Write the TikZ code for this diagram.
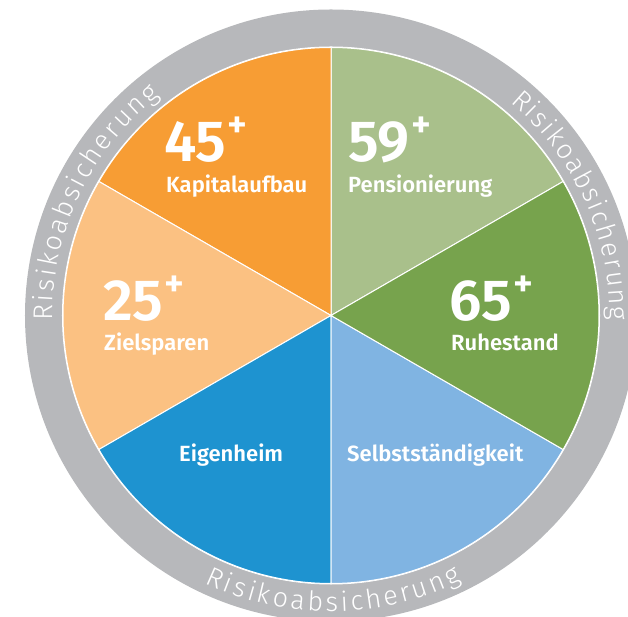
\documentclass[tikz,border=0pt]{standalone}
\usepackage{fontspec}
\setmainfont{Fira Sans}
\newfontfamily\semib{Fira Sans SemiBold}
\newfontfamily\lightf{Fira Sans Light}
\usetikzlibrary{decorations.text}
\definecolor{cOr}{HTML}{F79D34}
\definecolor{cOrL}{HTML}{FBC182}
\definecolor{cGrL}{HTML}{A9C08B}
\definecolor{cGr}{HTML}{77A34D}
\definecolor{cBl}{HTML}{1E93D0}
\definecolor{cBlL}{HTML}{80B4E2}
\definecolor{cRing}{HTML}{B7B8BB}
\newcommand{\agenum}[1]{{\semib\fontsize{58}{58}\selectfont #1}\kern1.5pt\raisebox{24pt}{\semib\fontsize{38}{38}\selectfont +}}
\begin{document}
\begin{tikzpicture}[x=1pt,y=1pt,
  sector/.style={draw=white, line width=1pt},
  lab/.style={anchor=base west, inner sep=0pt, text=white, font=\semib\fontsize{22}{22}\selectfont},
  num/.style={anchor=base west, inner sep=0pt, text=white},
  ringtext/.style={decorate, decoration={text along path, text align=fit to path,
     text={|\lightf\fontsize{27}{27}\selectfont\color{white}|Risikoabsicherung}}}]
\useasboundingbox (-331,-301.5) rectangle (297,315.5);
\fill[cRing] (0,0) circle[radius=306];
\fill[white] (0,0) circle[radius=269];
% sectors
\filldraw[sector, fill=cGrL] (0,0) -- (30:268) arc[start angle=30, end angle=90, radius=268] -- cycle;
\filldraw[sector, fill=cOr]  (0,0) -- (90:268) arc[start angle=90, end angle=150, radius=268] -- cycle;
\filldraw[sector, fill=cOrL] (0,0) -- (150:268) arc[start angle=150, end angle=210, radius=268] -- cycle;
\filldraw[sector, fill=cBl]  (0,0) -- (210:268) arc[start angle=210, end angle=270, radius=268] -- cycle;
\filldraw[sector, fill=cBlL] (0,0) -- (270:268) arc[start angle=270, end angle=330, radius=268] -- cycle;
\filldraw[sector, fill=cGr]  (0,0) -- (-30:268) arc[start angle=-30, end angle=30, radius=268] -- cycle;
% ring texts
\path[ringtext] (181:278.5) arc[start angle=181, end angle=128, radius=278.5];
\path[ringtext] (50:278.5) arc[start angle=50, end angle=-1, radius=278.5];
\path[ringtext] (244.7:296) arc[start angle=244.7, end angle=296.3, radius=296];
% labels
\node[num] (n45) at (-167,154) {\agenum{45}};
\node[lab] (kap) at (-165,122.5) {Kapitalaufbau};
\node[num] (n59) at (17,154) {\agenum{59}};
\node[lab] (pen) at (17,122.5) {Pensionierung};
\node[num] (n25) at (-228,-5) {\agenum{25}};
\node[lab] (ziel) at (-227,-35) {Zielsparen};
\node[num] (n65) at (118,-5) {\agenum{65}};
\node[lab] (ruhe) at (120,-35) {Ruhestand};
\node[lab] (eig) at (-152,-146.5) {Eigenheim};
\node[lab] (selb) at (16,-146.5) {Selbstständigkeit};
\end{tikzpicture}
\end{document}
